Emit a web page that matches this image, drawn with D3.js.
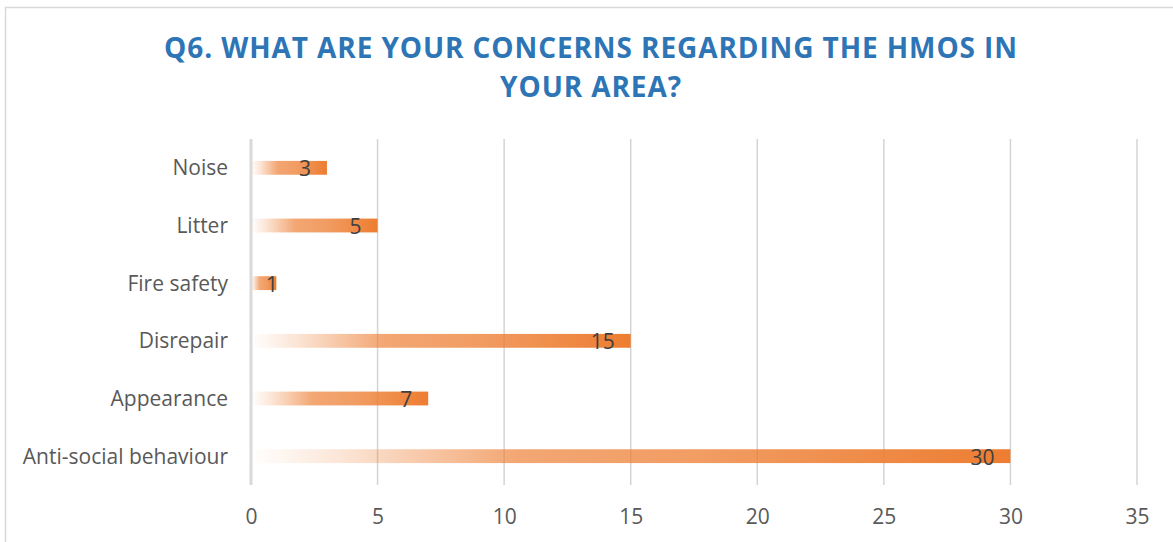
<!DOCTYPE html>
<html>
<head>
<meta charset="utf-8">
<script src="https://cdn.jsdelivr.net/npm/d3@7"></script>
<style>
  html, body { margin: 0; padding: 0; background: #fff; }
  svg { display: block; font-family: "Open Sans", "Noto Sans", sans-serif; }
</style>
</head>
<body>
<svg id="chart" width="1173" height="542"></svg>
<script>
// Survey answers: concerns about HMOs (number of respondents)
const categories = ["Noise", "Litter", "Fire safety", "Disrepair", "Appearance", "Anti-social behaviour"];
const counts = [3, 5, 1, 15, 7, 30];
const xTicks = [0, 5, 10, 15, 20, 25, 30, 35];
const titleLines = ["Q6. WHAT ARE YOUR CONCERNS REGARDING THE HMOS IN", "YOUR AREA?"];

const svg = d3.select("#chart");
const W = 1173, H = 542;
const plot = { left: 251, right: 1137, top: 139, bottom: 485 };
const labelFont = "'Open Sans', 'Noto Sans', sans-serif";

// chart frame
svg.append("rect")
  .attr("x", 5.5).attr("y", 7.5)
  .attr("width", W + 10).attr("height", H + 10)
  .attr("fill", "#fff").attr("stroke", "#d9d9d9").attr("stroke-width", 1.5);

// title
svg.append("g").selectAll("text")
  .data(titleLines).join("text")
  .attr("x", 591)
  .attr("y", (d, i) => 58 + i * 39)
  .attr("text-anchor", "middle")
  .attr("fill", "#2E75B6")
  .attr("font-size", 28)
  .attr("font-weight", 700)
  .attr("letter-spacing", 0.9)
  .text(d => d);

const x = d3.scaleLinear().domain([0, 35]).range([plot.left, plot.right]);
const y = d3.scaleBand().domain(categories).range([plot.top, plot.bottom]).paddingInner(0.76).paddingOuter(0.38);

// vertical gridlines
svg.append("g").selectAll("line")
  .data(xTicks.filter(t => t !== 0)).join("line")
  .attr("x1", d => x(d)).attr("x2", d => x(d))
  .attr("y1", plot.top).attr("y2", plot.bottom)
  .attr("stroke", "#d4d4d4").attr("stroke-width", 1.5);

// gradient fill for bars, fading in from the left
const defs = svg.append("defs");
const grad = defs.append("linearGradient")
  .attr("id", "barFill").attr("x1", "0").attr("x2", "1").attr("y1", "0").attr("y2", "0");
[[0, 0.0], [0.12, 0.2], [0.35, 0.68], [0.6, 0.76], [1, 1]].forEach(([o, a]) => {
  grad.append("stop").attr("offset", o).attr("stop-color", "#ED7D31").attr("stop-opacity", a);
});

// bars
svg.append("g").selectAll("rect")
  .data(categories).join("rect")
  .attr("x", x(0))
  .attr("y", d => y(d))
  .attr("width", (d, i) => x(counts[i]) - x(0))
  .attr("height", y.bandwidth())
  .attr("fill", "url(#barFill)");

// value axis line at zero
svg.append("line")
  .attr("x1", x(0)).attr("x2", x(0))
  .attr("y1", plot.top).attr("y2", plot.bottom)
  .attr("stroke", "#d9d9d9").attr("stroke-width", 3);

// value labels, inside the bar end (pushed right when the bar is too short)
svg.append("g").selectAll("text")
  .data(categories).join("text")
  .attr("y", d => y(d) + y.bandwidth() / 2 + 8.5)
  .attr("text-anchor", "end")
  .attr("fill", "#404040")
  .attr("font-size", 21)
  .text((d, i) => counts[i])
  .attr("x", function (d, i) {
    const w = this.getComputedTextLength();
    return Math.max(x(counts[i]) - 16, x(0) + 15 + w);
  });

// category axis
const yAxis = svg.append("g")
  .attr("transform", `translate(${plot.left - 23},0)`)
  .call(d3.axisLeft(y).tickSize(0).tickPadding(0));
yAxis.select(".domain").remove();
yAxis.selectAll("text")
  .attr("fill", "#595959")
  .attr("font-size", 21)
  .attr("font-family", labelFont)
  .attr("dy", "0.35em");

// value axis labels
const xAxis = svg.append("g")
  .attr("transform", `translate(0,${plot.bottom})`)
  .call(d3.axisBottom(x).tickValues(xTicks).tickSize(0).tickPadding(0));
xAxis.select(".domain").remove();
xAxis.selectAll("text")
  .attr("fill", "#595959")
  .attr("font-size", 21)
  .attr("font-family", labelFont)
  .attr("y", 39)
  .attr("dy", 0);
</script>
</body>
</html>
